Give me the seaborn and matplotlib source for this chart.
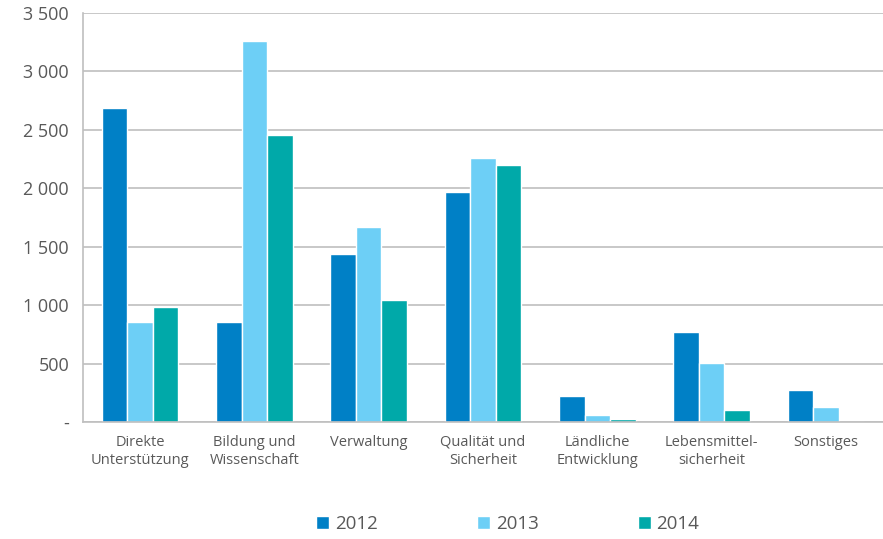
import seaborn as sns
import matplotlib.pyplot as plt
import pandas as pd
from matplotlib.ticker import FuncFormatter, FixedLocator
from matplotlib.patches import Patch

# Kategorien und Werte
kategorien = ['Direkte\nUnterstützung', 'Bildung und\nWissenschaft', 'Verwaltung',
              'Qualität und\nSicherheit', 'Ländliche\nEntwicklung', 'Lebensmittel-\nsicherheit',
              'Sonstiges']
jahre = ['2012', '2013', '2014']
werte_2012 = [2690, 855, 1440, 1965, 222, 768, 272]
werte_2013 = [855, 3260, 1668, 2258, 60, 505, 125]
werte_2014 = [985, 2455, 1045, 2198, 22, 100, 0]
farben = ['#0080c6', '#6dcff6', '#00a9a9']

df = pd.DataFrame({
    'kategorie': kategorien * 3,
    'jahr': [j for j in jahre for _ in kategorien],
    'wert': werte_2012 + werte_2013 + werte_2014,
})

sns.set_style('white')
plt.rcParams['font.family'] = ['Open Sans', 'DejaVu Sans']

fig = plt.figure(figsize=(8.83, 5.39), dpi=100)
ax = fig.add_axes([0.094, 0.217, 0.906, 0.759])

sns.barplot(data=df, x='kategorie', y='wert', hue='jahr', palette=farben,
            width=0.67, saturation=1, legend=False, ax=ax)

ax.set_xlim(-0.5, 6.5)
ax.set_ylim(0, 3500)
ax.set_yticks(range(0, 3501, 500))
ax.yaxis.set_major_formatter(FuncFormatter(
    lambda v, p: '-' if v == 0 else f'{int(v):,}'.replace(',', ' ')))
ax.grid(axis='y', color='#bfbfbf', linewidth=1.2)
ax.set_axisbelow(True)

for s in ['top', 'right']:
    ax.spines[s].set_visible(False)
for s in ['left', 'bottom']:
    ax.spines[s].set_color('#bfbfbf')
    ax.spines[s].set_linewidth(1.2)

ax.tick_params(axis='y', length=0, labelsize=13, labelcolor='#595959', pad=10)
ax.tick_params(axis='x', which='major', length=0, labelsize=10.5, labelcolor='#595959', pad=9)
for lbl in ax.get_xticklabels():
    lbl.set_linespacing(1.35)
ax.xaxis.set_minor_locator(FixedLocator([i - 0.5 for i in range(7)]))
ax.tick_params(axis='x', which='minor', length=5, color='#bfbfbf', width=1.2)
ax.set_xlabel('')
ax.set_ylabel('')

handles = [Patch(facecolor=c, label=j) for c, j in zip(farben, jahre)]
fig.legend(handles=handles, loc='lower center', ncol=3, frameon=False,
           fontsize=13.5, labelcolor='#595959', handlelength=0.7, handleheight=0.7,
           handletextpad=0.3, columnspacing=5.3, bbox_to_anchor=(0.575, -0.02))

fig.savefig('out.png', dpi=100)
